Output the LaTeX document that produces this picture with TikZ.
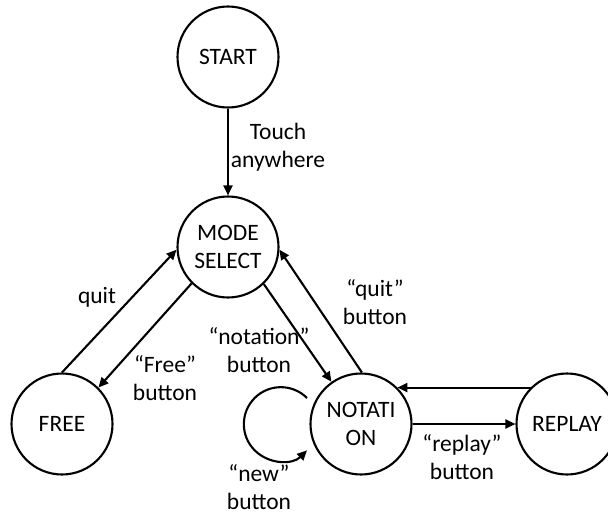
\documentclass[tikz,border=0pt]{standalone}
\usepackage{fontspec}
\setmainfont{Carlito}
\usetikzlibrary{arrows.meta}
\begin{document}
\begin{tikzpicture}[x=1pt,y=-1pt,
  every node/.style={font=\fontsize{23.5}{27.5}\selectfont},
  state/.style={draw,circle,line width=2.1pt,minimum size=101pt,inner sep=0pt,align=center},
  lbl/.style={align=center,inner sep=0pt},
  edge/.style={line width=2.1pt,-{Triangle[length=10pt,width=9pt]}}]
\useasboundingbox (0,0) rectangle (608,514);
\node[state] (start) at (228,57) {START};
\node[state] (mode) at (228,247) {MODE\\SELECT};
\node[state] (free) at (62,424) {FREE};
\node[state] (nota) at (361,424) {NOTATI\\ON};
\node[state] (replay) at (567,424) {REPLAY};

\draw[edge] (start) -- (mode);
\draw[edge] (free.90) -- (mode.183);
\draw[edge] (mode.225) -- (free.45);
\draw[edge] (mode.314) -- (nota.125);
\draw[edge] (nota.89) -- (mode.357);
\draw[edge] (replay.135) -- (nota.45);
\draw[edge] (nota.0) -- (replay.180);

% self-loop on the notation state
\coordinate (loopstart) at (307,398);
\draw[edge] (loopstart) arc[start angle=-45,end angle=-315,radius=37];

\node[lbl] at (278,147) {Touch\\anywhere};
\node[lbl] at (97,297) {quit};
\node[lbl] at (165,378) {“Free”\\button};
\node[lbl] at (259,350) {“notation”\\button};
\node[lbl] at (375,302) {“quit”\\button};
\node[lbl] at (259,487) {“new”\\button};
\node[lbl] at (462,457) {“replay”\\button};
\end{tikzpicture}
\end{document}
